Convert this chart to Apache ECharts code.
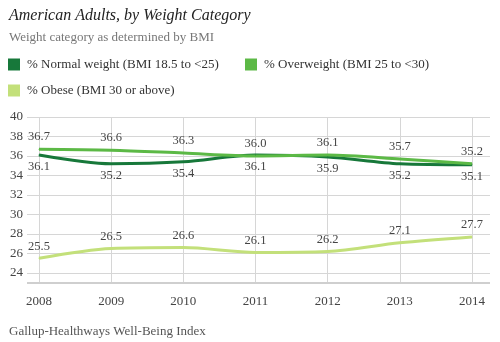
<!DOCTYPE html>
<html>
<head>
<meta charset="utf-8">
<script src="https://cdn.jsdelivr.net/npm/echarts@6/dist/echarts.min.js"></script>
<style>
html,body{margin:0;padding:0;background:#fff;}
#c{width:500px;height:342px;}
</style>
</head>
<body>
<div id="c"></div>
<script>
var years = ['2008','2009','2010','2011','2012','2013','2014'];
var normalWeight = [36.1, 35.2, 35.4, 36.1, 35.9, 35.2, 35.1];
var overweight = [36.7, 36.6, 36.3, 36.0, 36.1, 35.7, 35.2];
var obese = [25.5, 26.5, 26.6, 26.1, 26.2, 27.1, 27.7];
var seriesNames = ['% Normal weight (BMI 18.5 to <25)', '% Overweight (BMI 25 to <30)', '% Obese (BMI 30 or above)'];
var seriesColors = ['#17783a', '#5cb946', '#c3e07a'];
var yTicks = {min: 24, max: 40, interval: 2};

var serif = 'Liberation Serif';
var chart = echarts.init(document.getElementById('c'), null, {renderer: 'canvas'});
var labelStyle = function (pos) {
  return {show: true, position: pos, distance: 5, color: '#444', fontFamily: serif, fontSize: 12.5,
    formatter: function (p) { return Number(p.value).toFixed(1); }};
};
var legendBase = function (name, left, top) {
  return {
    data: [name], left: left, top: top, icon: 'rect', itemWidth: 12, itemHeight: 12,
    itemGap: 0, selectedMode: false,
    textStyle: {fontFamily: serif, fontSize: 13, color: '#333', padding: [0, 0, 0, 2]}
  };
};
var lineSeries = function (idx, data, pos, extra) {
  var s = {
    name: seriesNames[idx], type: 'line', xAxisIndex: 1, yAxisIndex: 1, data: data,
    smooth: 0.3, symbol: 'circle', symbolSize: 1, showAllSymbol: true,
    color: seriesColors[idx],
    itemStyle: {color: seriesColors[idx]},
    lineStyle: {width: 3, color: seriesColors[idx]},
    label: labelStyle(pos),
    labelLayout: {hideOverlap: false}
  };
  if (extra) { for (var k in extra) s[k] = extra[k]; }
  return s;
};
chart.setOption({
  animation: false,
  title: [
    {text: 'American Adults, by Weight Category', left: 4, top: 3,
     textStyle: {fontFamily: serif, fontStyle: 'italic', fontWeight: 'normal', fontSize: 16, color: '#222'}},
    {text: 'Weight category as determined by BMI', left: 4, top: 26,
     textStyle: {fontFamily: serif, fontWeight: 'normal', fontSize: 13, color: '#777'}},
    {text: 'Gallup-Healthways Well-Being Index', left: 4, top: 320,
     textStyle: {fontFamily: serif, fontWeight: 'normal', fontSize: 13, color: '#555'}}
  ],
  legend: [
    legendBase(seriesNames[0], 3, 53),
    legendBase(seriesNames[1], 240, 53),
    legendBase(seriesNames[2], 3, 79)
  ],
  grid: [
    {left: 27, right: 10, top: 117, bottom: 69},
    {left: 39, right: 28, top: 117, bottom: 59}
  ],
  xAxis: [
    {gridIndex: 0, type: 'value', min: 0, max: 1, show: false},
    {gridIndex: 1, type: 'category', data: years, boundaryGap: false,
     axisLine: {show: false}, axisTick: {show: false},
     axisLabel: {color: '#444', fontFamily: serif, fontSize: 13, margin: 12},
     splitLine: {show: true, lineStyle: {color: '#d6d6d6', width: 1}}}
  ],
  yAxis: [
    {gridIndex: 0, type: 'value', min: yTicks.min, max: yTicks.max, interval: yTicks.interval,
     axisLine: {show: false}, axisTick: {show: false},
     axisLabel: {color: '#444', fontFamily: serif, fontSize: 13, margin: 0, align: 'left', padding: [0, 0, 0, -17]},
     splitLine: {lineStyle: {color: '#d6d6d6', width: 1}}},
    {gridIndex: 1, type: 'value', min: 22.97, max: 40, show: false, splitLine: {show: false}}
  ],
  series: [
    lineSeries(2, obese, 'top'),
    lineSeries(0, normalWeight, 'bottom'),
    lineSeries(1, overweight, 'top', {
      markLine: {silent: true, symbol: 'none', label: {show: false},
        lineStyle: {color: '#cfcfcf', width: 2, type: 'solid'},
        data: [[{coord: [0, 22.97], x: 27}, {coord: [6, 22.97], x: 490}]]}
    })
  ]
});
</script>
</body>
</html>
